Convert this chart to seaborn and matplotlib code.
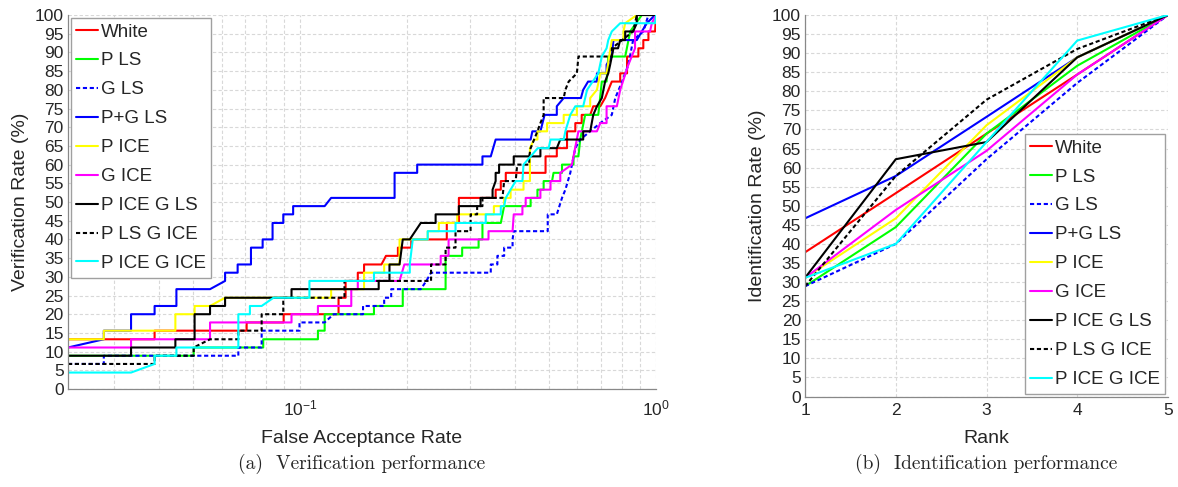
import numpy as np
import pandas as pd
import seaborn as sns
import matplotlib.pyplot as plt
from matplotlib.ticker import LogLocator, NullFormatter, MultipleLocator

# ===== Style =====
sns.set_style("white")
plt.rcParams['font.family'] = ['Liberation Sans', 'DejaVu Sans']
plt.rcParams['mathtext.fontset'] = 'custom'
plt.rcParams['mathtext.rm'] = 'Liberation Sans'

# ===== Data: ROC (FAR, verification rate %) =====
FAR_MIN = 0.0222

white_roc = [(0.0222, 13.3), (0.0389, 13.3), (0.0389, 15.6), (0.0706, 15.6), (0.0706, 17.8), (0.0897, 17.8),
             (0.0897, 20.0), (0.128, 20.0), (0.128, 24.4), (0.134, 24.4), (0.134, 28.9), (0.145, 28.9),
             (0.145, 31.1), (0.151, 31.1), (0.151, 33.3), (0.169, 33.3), (0.174, 35.6), (0.188, 35.6),
             (0.188, 37.8), (0.205, 37.8), (0.205, 40.0), (0.258, 40.0), (0.258, 44.4), (0.279, 44.4),
             (0.279, 51.1), (0.354, 51.1), (0.354, 53.3), (0.366, 53.3), (0.366, 55.6), (0.378, 55.6),
             (0.378, 57.8), (0.489, 57.8), (0.489, 62.2), (0.526, 62.2), (0.526, 64.4), (0.562, 64.4),
             (0.562, 68.9), (0.593, 68.9), (0.593, 71.1), (0.618, 71.1), (0.618, 73.3), (0.653, 73.3),
             (0.666, 75.6), (0.697, 75.6), (0.719, 77.8), (0.751, 82.2), (0.793, 82.2), (0.793, 84.4),
             (0.829, 84.4), (0.829, 88.9), (0.892, 88.9), (0.892, 91.1), (0.921, 91.1), (0.921, 93.3),
             (0.952, 93.3), (0.952, 95.6), (0.994, 95.6), (1.0, 100.0)]

pls_roc = [(0.0222, 8.9), (0.0501, 8.9), (0.0501, 11.1), (0.0786, 11.1), (0.0786, 13.3), (0.112, 13.3),
           (0.112, 15.6), (0.117, 15.6), (0.117, 20.0), (0.161, 20.0), (0.161, 22.2), (0.194, 22.2),
           (0.194, 26.7), (0.256, 26.7), (0.256, 35.6), (0.285, 35.6), (0.285, 37.8), (0.317, 37.8),
           (0.317, 40.0), (0.325, 40.0), (0.325, 44.4), (0.366, 44.4), (0.374, 48.9), (0.444, 48.9),
           (0.444, 51.1), (0.464, 51.1), (0.464, 53.3), (0.483, 53.3), (0.483, 55.6), (0.510, 55.6),
           (0.515, 57.8), (0.544, 57.8), (0.544, 60.0), (0.586, 60.0), (0.586, 62.2), (0.605, 62.2),
           (0.612, 66.7), (0.632, 73.3), (0.688, 73.3), (0.704, 82.2), (0.726, 82.2), (0.734, 88.9),
           (0.819, 88.9), (0.846, 95.6), (0.912, 100.0), (1.0, 100.0)]

gls_roc = [(0.0222, 6.7), (0.0280, 6.7), (0.0280, 8.9), (0.0669, 8.9), (0.0669, 11.1), (0.0778, 11.1),
           (0.0778, 15.6), (0.0994, 15.6), (0.0994, 17.8), (0.117, 17.8), (0.124, 20.0), (0.150, 20.0),
           (0.150, 22.2), (0.172, 22.2), (0.172, 24.4), (0.180, 24.4), (0.180, 26.7), (0.218, 26.7),
           (0.226, 28.9), (0.233, 31.1), (0.343, 31.1), (0.343, 33.3), (0.358, 33.3), (0.358, 35.6),
           (0.374, 35.6), (0.374, 37.8), (0.395, 37.8), (0.395, 40.0), (0.398, 42.2), (0.496, 42.2),
           (0.496, 46.7), (0.526, 46.7), (0.544, 51.1), (0.556, 53.3), (0.574, 57.8), (0.593, 64.4),
           (0.612, 66.7), (0.653, 68.9), (0.697, 71.1), (0.751, 73.3), (0.768, 77.8), (0.803, 82.2),
           (0.836, 86.7), (0.862, 93.3), (0.921, 95.6), (0.952, 100.0), (1.0, 100.0)]

pgls_roc = [(0.0222, 11.1), (0.0280, 13.3), (0.0280, 15.6), (0.0334, 15.6), (0.0334, 20.0), (0.0389, 20.0),
            (0.0389, 22.2), (0.0448, 22.2), (0.0448, 26.7), (0.0557, 26.7), (0.0614, 28.9), (0.0614, 31.1),
            (0.0666, 31.1), (0.0666, 33.3), (0.0726, 33.3), (0.0726, 37.8), (0.0783, 37.8), (0.0783, 40.0),
            (0.0835, 40.0), (0.0835, 44.4), (0.0895, 44.4), (0.0895, 46.7), (0.0954, 46.7), (0.0954, 48.9),
            (0.117, 48.9), (0.122, 51.1), (0.184, 51.1), (0.184, 57.8), (0.213, 57.8), (0.213, 60.0),
            (0.325, 60.0), (0.325, 62.2), (0.343, 62.2), (0.354, 66.7), (0.444, 66.7), (0.449, 68.9),
            (0.473, 68.9), (0.486, 73.3), (0.526, 73.3), (0.526, 75.6), (0.550, 77.8), (0.615, 77.8),
            (0.624, 80.0), (0.644, 82.2), (0.682, 82.2), (0.682, 84.4), (0.726, 84.4), (0.726, 86.7),
            (0.751, 88.9), (0.759, 93.3), (0.883, 93.3), (0.912, 95.6), (0.942, 97.8), (0.994, 100.0),
            (1.0, 100.0)]

pice_roc = [(0.0222, 13.3), (0.0280, 13.3), (0.0280, 15.6), (0.0445, 15.6), (0.0445, 20.0), (0.0504, 20.0),
            (0.0504, 22.2), (0.0557, 22.2), (0.0614, 24.4), (0.122, 24.4), (0.122, 26.7), (0.151, 26.7),
            (0.151, 31.1), (0.172, 31.1), (0.172, 33.3), (0.190, 33.3), (0.190, 40.0), (0.228, 40.0),
            (0.228, 42.2), (0.245, 42.2), (0.245, 44.4), (0.276, 44.4), (0.276, 46.7), (0.350, 46.7),
            (0.350, 48.9), (0.374, 48.9), (0.374, 51.1), (0.390, 51.1), (0.390, 53.3), (0.424, 53.3),
            (0.424, 55.6), (0.442, 55.6), (0.442, 64.4), (0.454, 66.7), (0.464, 66.7), (0.464, 68.9),
            (0.494, 68.9), (0.494, 71.1), (0.550, 71.1), (0.550, 73.3), (0.599, 73.3), (0.599, 75.6),
            (0.653, 75.6), (0.653, 77.8), (0.682, 80.0), (0.697, 84.4), (0.726, 84.4), (0.751, 93.3),
            (0.810, 93.3), (0.810, 95.6), (0.819, 97.8), (0.883, 100.0), (1.0, 100.0)]

gice_roc = [(0.0222, 11.1), (0.0334, 11.1), (0.0334, 13.3), (0.0557, 13.3), (0.0557, 17.8), (0.0944, 17.8),
            (0.0944, 20.0), (0.112, 20.0), (0.112, 22.2), (0.139, 22.2), (0.139, 26.7), (0.145, 26.7),
            (0.145, 28.9), (0.190, 28.9), (0.196, 33.3), (0.248, 33.3), (0.248, 35.6), (0.261, 35.6),
            (0.261, 40.0), (0.338, 40.0), (0.338, 42.2), (0.395, 42.2), (0.398, 46.7), (0.421, 46.7),
            (0.421, 48.9), (0.430, 48.9), (0.430, 51.1), (0.473, 51.1), (0.473, 53.3), (0.505, 53.3),
            (0.505, 55.6), (0.538, 55.6), (0.538, 57.8), (0.580, 60.0), (0.586, 62.2), (0.605, 68.9),
            (0.682, 68.9), (0.697, 71.1), (0.726, 71.1), (0.726, 75.6), (0.776, 75.6), (0.793, 80.0),
            (0.836, 86.7), (0.873, 91.1), (0.873, 95.6), (0.962, 95.6), (0.973, 97.8), (1.0, 100.0)]

piceGls_roc = [(0.0222, 8.9), (0.0334, 8.9), (0.0334, 11.1), (0.0445, 11.1), (0.0445, 13.3), (0.0504, 13.3),
               (0.0504, 20.0), (0.0557, 20.0), (0.0557, 22.2), (0.0614, 22.2), (0.0614, 24.4), (0.0944, 24.4),
               (0.0944, 26.7), (0.166, 26.7), (0.166, 28.9), (0.178, 28.9), (0.178, 33.3), (0.190, 33.3),
               (0.194, 40.0), (0.203, 40.0), (0.218, 44.4), (0.240, 44.4), (0.240, 46.7), (0.279, 46.7),
               (0.279, 48.9), (0.321, 48.9), (0.321, 51.1), (0.347, 51.1), (0.347, 53.3), (0.354, 55.6),
               (0.354, 57.8), (0.362, 57.8), (0.362, 60.0), (0.398, 60.0), (0.398, 62.2), (0.473, 62.2),
               (0.473, 64.4), (0.526, 64.4), (0.538, 66.7), (0.624, 66.7), (0.624, 68.9), (0.653, 68.9),
               (0.666, 73.3), (0.682, 75.6), (0.704, 77.8), (0.719, 82.2), (0.734, 84.4), (0.743, 86.7),
               (0.751, 88.9), (0.759, 91.1), (0.782, 91.1), (0.793, 93.3), (0.819, 93.3), (0.819, 95.6),
               (0.862, 95.6), (0.883, 97.8), (0.883, 100.0), (1.0, 100.0)]

plsGice_roc = [(0.0222, 6.7), (0.0389, 6.7), (0.0389, 8.9), (0.0501, 8.9), (0.0501, 11.1), (0.0557, 13.3),
               (0.0669, 13.3), (0.0669, 15.6), (0.0778, 15.6), (0.0778, 20.0), (0.0895, 20.0), (0.0895, 24.4),
               (0.133, 24.4), (0.133, 28.9), (0.233, 28.9), (0.233, 33.3), (0.256, 33.3), (0.256, 37.8),
               (0.273, 37.8), (0.273, 42.2), (0.301, 42.2), (0.301, 46.7), (0.314, 46.7), (0.314, 48.9),
               (0.325, 48.9), (0.325, 51.1), (0.370, 51.1), (0.374, 55.6), (0.403, 55.6), (0.407, 60.0),
               (0.440, 60.0), (0.440, 62.2), (0.444, 64.4), (0.464, 68.9), (0.473, 71.1), (0.483, 73.3),
               (0.483, 77.8), (0.550, 77.8), (0.556, 80.0), (0.568, 82.2), (0.599, 84.4), (0.605, 88.9),
               (0.751, 88.9), (0.751, 91.1), (0.862, 95.6), (0.873, 97.8), (0.883, 100.0), (1.0, 100.0)]

piceGice_roc = [(0.0222, 4.4), (0.0334, 4.4), (0.0389, 6.7), (0.0389, 8.9), (0.0448, 8.9), (0.0448, 11.1),
                (0.0669, 11.1), (0.0669, 20.0), (0.0721, 20.0), (0.0721, 22.2), (0.0778, 22.2), (0.0840, 24.4),
                (0.106, 24.4), (0.106, 28.9), (0.161, 28.9), (0.161, 31.1), (0.203, 31.1), (0.203, 33.3),
                (0.207, 40.0), (0.228, 40.0), (0.228, 42.2), (0.273, 42.2), (0.273, 44.4), (0.332, 44.4),
                (0.332, 46.7), (0.366, 46.7), (0.366, 48.9), (0.374, 48.9), (0.378, 51.1), (0.390, 53.3),
                (0.403, 55.6), (0.421, 55.6), (0.424, 60.0), (0.444, 62.2), (0.465, 64.4), (0.499, 64.4),
                (0.505, 66.7), (0.550, 66.7), (0.556, 68.9), (0.574, 73.3), (0.593, 75.6), (0.624, 75.6),
                (0.640, 80.0), (0.688, 84.4), (0.704, 88.9), (0.726, 91.1), (0.734, 93.3), (0.751, 95.6),
                (0.793, 97.8), (0.994, 97.8), (1.0, 100.0)]

# ===== Data: CMC (rank, identification rate %) =====
ranks = [1, 2, 3, 4, 5]
white_cmc = [37.8, 53.3, 68.9, 84.4, 100]
pls_cmc = [28.9, 44.4, 68.9, 86.7, 100]
gls_cmc = [28.9, 40.0, 62.2, 82.2, 100]
pgls_cmc = [46.7, 57.8, 73.3, 88.9, 100]
pice_cmc = [31.1, 46.7, 71.1, 88.9, 100]
gice_cmc = [31.1, 48.9, 64.4, 84.4, 100]
piceGls_cmc = [31.1, 62.2, 66.7, 88.9, 100]
plsGice_cmc = [28.9, 57.8, 77.8, 91.1, 100]
piceGice_cmc = [31.1, 40.0, 66.7, 93.3, 100]

labels = ["White", "P LS", "G LS", "P+G LS", "P ICE", "G ICE", "P ICE G LS", "P LS G ICE", "P ICE G ICE"]
colors = ["#ff0000", "#00ff00", "#0000ff", "#0000ff", "#ffff00", "#ff00ff", "#000000", "#000000", "#00ffff"]
DOTTED = (0, (2.0, 1.3))
styles = ["-", "-", DOTTED, "-", "-", "-", "-", DOTTED, "-"]

roc_list = [white_roc, pls_roc, gls_roc, pgls_roc, pice_roc, gice_roc, piceGls_roc, plsGice_roc, piceGice_roc]
cmc_list = [white_cmc, pls_cmc, gls_cmc, pgls_cmc, pice_cmc, gice_cmc, piceGls_cmc, plsGice_cmc, piceGice_cmc]

# ===== Figure =====
fig = plt.figure(figsize=(11.78, 4.87), dpi=100)
ax1 = fig.add_axes([0.0577, 0.2012, 0.4992, 0.768])
ax2 = fig.add_axes([0.6834, 0.1858, 0.3081, 0.7834])

GRID_KW = dict(color="#d8d8d8", linestyle=(0, (3, 2)), linewidth=0.8)
LW = 1.5

ax1.set_xscale("log")
for roc, lab, col, ls in zip(roc_list, labels, colors, styles):
    df = pd.DataFrame(roc, columns=["far", "vr"])
    sns.lineplot(data=df, x="far", y="vr", ax=ax1, sort=False, estimator=None,
                 color=col, linestyle=ls, linewidth=LW, label=lab)

for cmc, lab, col, ls in zip(cmc_list, labels, colors, styles):
    df = pd.DataFrame({"rank": ranks, "ir": cmc})
    sns.lineplot(data=df, x="rank", y="ir", ax=ax2, sort=False, estimator=None,
                 color=col, linestyle=ls, linewidth=LW, label=lab)

# ----- left axes -----
ax1.set_xlim(FAR_MIN, 1.0)
ax1.set_ylim(0, 100)
ax1.xaxis.set_major_locator(LogLocator(base=10))
ax1.xaxis.set_minor_locator(LogLocator(base=10, subs=np.arange(2, 10)))
ax1.xaxis.set_minor_formatter(NullFormatter())
ax1.yaxis.set_major_locator(MultipleLocator(5))
ax1.grid(True, which="both", axis="x", **GRID_KW)
ax1.grid(True, which="major", axis="y", **GRID_KW)
ax1.set_xlabel("False Acceptance Rate", fontsize=14, labelpad=8)
ax1.set_ylabel("Verification Rate (%)", fontsize=14, labelpad=4)

# ----- right axes -----
ax2.set_xlim(1, 5)
ax2.set_ylim(0, 100)
ax2.set_xticks(ranks)
ax2.yaxis.set_major_locator(MultipleLocator(5))
ax2.grid(True, which="major", **GRID_KW)
ax2.set_xlabel("Rank", fontsize=14, labelpad=8)
ax2.set_ylabel("Identification Rate (%)", fontsize=14, labelpad=4)

for ax in (ax1, ax2):
    ax.set_axisbelow(True)
    for side in ("top", "right"):
        ax.spines[side].set_visible(False)
    for side in ("left", "bottom"):
        ax.spines[side].set_color("#888888")
        ax.spines[side].set_linewidth(0.9)
    ax.tick_params(which="both", direction="in", color="#888888", labelsize=12.5, pad=3)
    ax.tick_params(which="major", length=4)
    ax.tick_params(which="minor", length=2)
ax1.tick_params(axis="x", pad=7)
ax2.tick_params(axis="x", pad=5)

LEG_KW = dict(fontsize=13.5, frameon=True, fancybox=False, framealpha=1, edgecolor="#a0a0a0",
              handlelength=1.15, handletextpad=0.15, labelspacing=0.63, borderpad=0.3, borderaxespad=0.15)
leg1 = ax1.legend(loc="upper left", **LEG_KW)
leg2 = ax2.legend(loc="lower right", **LEG_KW)

# ===== Captions =====
fig.text(362 / 1178, 1 - 464 / 487, "(a)  Verification performance", ha="center", va="center",
         family="cmr10", fontsize=14)
fig.text(986 / 1178, 1 - 464 / 487, "(b)  Identification performance", ha="center", va="center",
         family="cmr10", fontsize=14)

fig.savefig("out.png", dpi=100)
plt.close(fig)
